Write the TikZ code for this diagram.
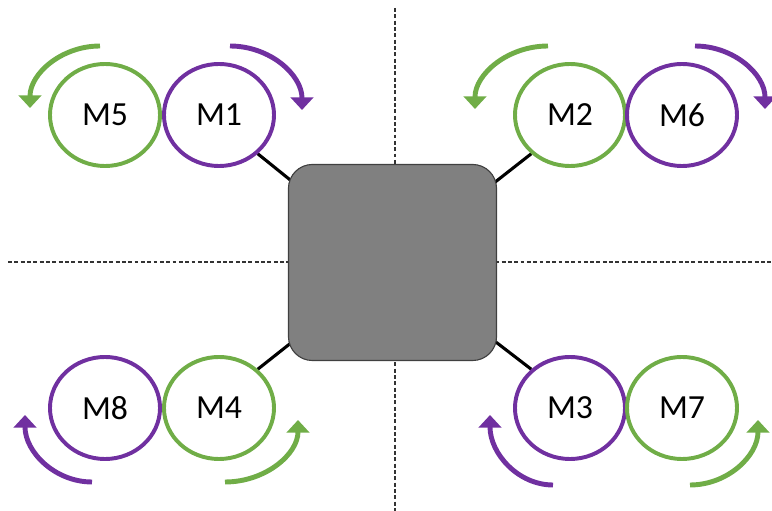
\documentclass[tikz,border=0pt]{standalone}
\usepackage{fontspec}
\setmainfont{Carlito}
\usetikzlibrary{shapes.geometric,arrows.meta,backgrounds}

\definecolor{morado}{RGB}{112,48,160}
\definecolor{verde}{RGB}{112,173,71}
\definecolor{caja}{RGB}{128,128,128}

\begin{document}
\begin{tikzpicture}[x=0.025cm,y=0.025cm,
    motor/.style={ellipse,draw=#1,line width=2.8pt,minimum width=2.75cm,
      minimum height=2.55cm,inner sep=0pt,
      font=\fontsize{24}{28}\selectfont},
    giro/.style={draw=#1,line width=3.5pt,-{Triangle[width=16pt,length=9pt]}},
    eje/.style={draw=black!80,line width=0.9pt,dash pattern=on 2.8pt off 1.7pt}]
      \useasboundingbox (0,0) rectangle (772,-511);

      % Ejes de referencia
      \draw[eje] (395,-8) -- (395,-511);
      \draw[eje] (8,-262) -- (772,-262);

      % Cuerpo central
      \node[draw=black!75,fill=caja,line width=0.8pt,rounded corners=17pt,
        minimum width=5.2cm,minimum height=4.9cm] (cuerpo) at (392.5,-262.5) {};

      % Motores
      \foreach \nombre/\x/\y/\col/\txt in {m5/105/115/verde/M5, m1/219/115/morado/M1,
          m2/570/115/verde/M2, m6/682/115/morado/M6,
          m8/105/408/morado/M8, m4/219/408/verde/M4,
          m3/570/408/morado/M3, m7/682/408/verde/M7}
        \node[motor=\col] (\nombre) at (\x,-\y) {\txt};

      % Brazos hacia el cuerpo
      \begin{pgfonlayer}{background}
        \draw[line width=2.2pt] (m1.-45) -- (cuerpo.center);
        \draw[line width=2.2pt] (m2.225) -- (cuerpo.center);
        \draw[line width=2.2pt] (m4.45) -- (cuerpo.center);
        \draw[line width=2.2pt] (m3.135) -- (cuerpo.center);
      \end{pgfonlayer}

      % Sentido de giro
      \draw[giro=verde] (100,-46) arc[start angle=90,end angle=180,x radius=70,y radius=62];
      \draw[giro=morado] (230,-46) arc[start angle=90,end angle=0,x radius=72,y radius=64];
      \draw[giro=verde] (548,-46) arc[start angle=90,end angle=180,x radius=73,y radius=63];
      \draw[giro=morado] (695,-46) arc[start angle=90,end angle=0,x radius=70,y radius=63];
      \draw[giro=morado] (92,-482) arc[start angle=270,end angle=180,x radius=67,y radius=67];
      \draw[giro=verde] (225,-482) arc[start angle=270,end angle=360,x radius=73,y radius=62];
      \draw[giro=morado] (553,-485) arc[start angle=270,end angle=180,x radius=63,y radius=70];
      \draw[giro=verde] (690,-485) arc[start angle=270,end angle=360,x radius=68,y radius=65];
    \end{tikzpicture}
\end{document}
